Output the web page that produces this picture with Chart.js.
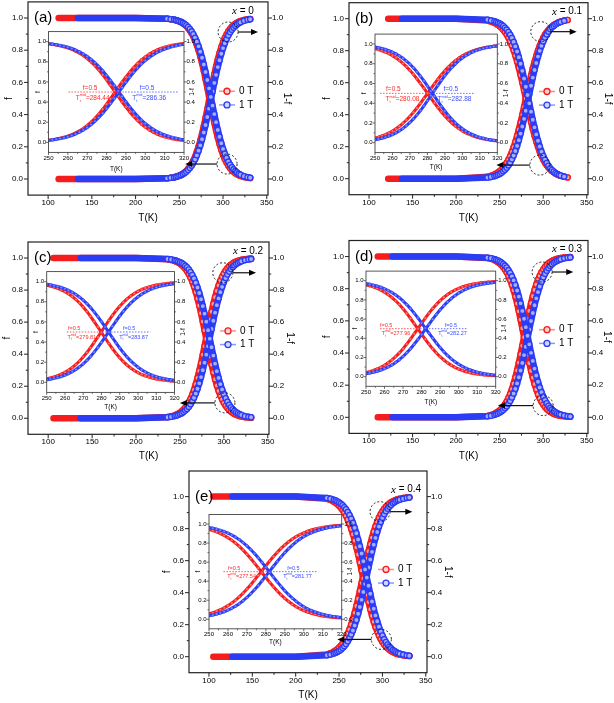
<!DOCTYPE html>
<html>
<head>
<meta charset="utf-8">
<script src="https://cdn.jsdelivr.net/npm/chart.js@4.4.1/dist/chart.umd.min.js"></script>
<style>
  html, body { margin: 0; padding: 0; background: #fff; }
  #page { position: relative; width: 614px; height: 703px; overflow: hidden; background: #fff; }
  canvas { position: absolute; }
</style>
</head>
<body>
<div id="page"></div>
<script>
// ---- data ----
// temperatures (K) for every curve after its first point
const tempGrid = [200, 236, 240, 244, 246, 248, 250, 252, 254, 256, 258, 260, 262, 264, 266, 268, 270, 272, 274, 276, 278, 280, 282, 284, 286, 288, 290, 292, 294, 296, 298, 300, 302, 304, 306, 308, 310, 312, 314, 316, 318, 320, 324, 328, 331];
// first measured temperature of each panel (a..e)
const start0T = [112, 122, 106, 110, 105];
const start1T = [134, 138, 137, 127, 127];

// f values: first entry at the start temperature, then one per tempGrid entry
const fA0 = [1, 1, 0.995, 0.993, 0.989, 0.986, 0.983, 0.979, 0.973, 0.967, 0.959, 0.950, 0.938, 0.923, 0.906, 0.886, 0.862, 0.832, 0.799, 0.761, 0.719, 0.672, 0.621, 0.567, 0.512, 0.457, 0.402, 0.350, 0.302, 0.257, 0.217, 0.181, 0.151, 0.124, 0.102, 0.083, 0.068, 0.055, 0.045, 0.036, 0.029, 0.023, 0.019, 0.012, 0.008, 0.006];
const fA1 = [1, 1, 0.996, 0.993, 0.990, 0.987, 0.984, 0.980, 0.976, 0.970, 0.963, 0.955, 0.944, 0.932, 0.917, 0.899, 0.878, 0.853, 0.824, 0.791, 0.753, 0.711, 0.665, 0.615, 0.563, 0.510, 0.456, 0.403, 0.353, 0.305, 0.262, 0.222, 0.187, 0.157, 0.131, 0.108, 0.089, 0.073, 0.060, 0.049, 0.040, 0.032, 0.026, 0.017, 0.011, 0.008];
const fB0 = [1, 1, 0.988, 0.982, 0.974, 0.968, 0.961, 0.953, 0.943, 0.931, 0.917, 0.901, 0.882, 0.859, 0.833, 0.803, 0.770, 0.733, 0.692, 0.648, 0.601, 0.552, 0.502, 0.452, 0.403, 0.356, 0.312, 0.270, 0.233, 0.199, 0.169, 0.143, 0.120, 0.100, 0.084, 0.070, 0.058, 0.048, 0.040, 0.033, 0.027, 0.022, 0.018, 0.012, 0.008, null];
const fB1 = [1, 1, 0.993, 0.989, 0.984, 0.980, 0.975, 0.970, 0.963, 0.954, 0.944, 0.932, 0.917, 0.900, 0.879, 0.855, 0.827, 0.795, 0.759, 0.718, 0.674, 0.626, 0.575, 0.523, 0.471, 0.419, 0.368, 0.321, 0.277, 0.237, 0.201, 0.169, 0.142, 0.118, 0.098, 0.081, 0.066, 0.054, 0.045, 0.036, 0.030, 0.024, 0.020, 0.013, null, null];
const fC0 = [1, 1, 0.992, 0.988, 0.982, 0.977, 0.972, 0.965, 0.956, 0.946, 0.934, 0.919, 0.900, 0.879, 0.853, 0.823, 0.788, 0.748, 0.704, 0.656, 0.604, 0.550, 0.495, 0.440, 0.386, 0.335, 0.287, 0.244, 0.205, 0.171, 0.142, 0.117, 0.096, 0.078, 0.064, 0.052, 0.042, 0.034, 0.027, 0.022, 0.018, 0.014, 0.011, 0.007, 0.005, 0.003];
const fC1 = [1, 1, 0.994, 0.991, 0.986, 0.983, 0.979, 0.974, 0.969, 0.961, 0.952, 0.942, 0.929, 0.913, 0.894, 0.872, 0.846, 0.816, 0.782, 0.743, 0.700, 0.653, 0.603, 0.550, 0.497, 0.443, 0.391, 0.341, 0.294, 0.252, 0.213, 0.180, 0.150, 0.125, 0.103, 0.085, 0.069, 0.057, 0.046, 0.038, 0.031, 0.025, 0.020, 0.013, 0.009, 0.006];
const fD0 = [1, 1, 0.991, 0.986, 0.978, 0.972, 0.965, 0.957, 0.947, 0.935, 0.920, 0.902, 0.880, 0.855, 0.825, 0.791, 0.752, 0.708, 0.660, 0.608, 0.554, 0.499, 0.444, 0.390, 0.338, 0.290, 0.247, 0.208, 0.174, 0.144, 0.119, 0.097, 0.080, 0.065, 0.052, 0.042, 0.034, 0.028, 0.022, 0.018, 0.014, 0.012, 0.009, 0.006, 0.004, 0.003];
const fD1 = [1, 1, 0.993, 0.990, 0.984, 0.980, 0.976, 0.970, 0.963, 0.954, 0.944, 0.932, 0.916, 0.898, 0.877, 0.852, 0.823, 0.789, 0.751, 0.709, 0.662, 0.613, 0.561, 0.507, 0.454, 0.401, 0.351, 0.303, 0.260, 0.221, 0.186, 0.156, 0.129, 0.107, 0.088, 0.072, 0.059, 0.048, 0.039, 0.032, 0.026, 0.021, 0.017, 0.011, 0.007, 0.005];
const fE0 = [1, 1, 0.986, 0.979, 0.968, 0.962, 0.953, 0.943, 0.931, 0.917, 0.900, 0.880, 0.857, 0.830, 0.799, 0.765, 0.726, 0.683, 0.638, 0.589, 0.539, 0.488, 0.438, 0.388, 0.341, 0.297, 0.256, 0.219, 0.186, 0.157, 0.132, 0.110, 0.092, 0.076, 0.063, 0.052, 0.043, 0.035, 0.029, 0.024, 0.019, 0.016, 0.013, 0.009, 0.006, 0.004];
const fE1 = [1, 1, 0.991, 0.987, 0.980, 0.976, 0.970, 0.964, 0.956, 0.946, 0.934, 0.921, 0.904, 0.885, 0.862, 0.836, 0.805, 0.771, 0.732, 0.690, 0.645, 0.596, 0.545, 0.494, 0.443, 0.393, 0.345, 0.300, 0.258, 0.221, 0.187, 0.158, 0.132, 0.110, 0.092, 0.076, 0.063, 0.052, 0.042, 0.035, 0.028, 0.023, 0.019, 0.013, 0.008, 0.006];

const fRed = [fA0, fB0, fC0, fD0, fE0];
const fBlue = [fA1, fB1, fC1, fD1, fE1];

// f = 0.5 temperatures written in the insets
const tMid0T = [284.44, 280.08, 279.81, 277.96, 277.54];
const tMid1T = [286.36, 282.88, 283.87, 282.27, 281.77];

const fieldLabels = ['0 T', '1 T'];
const compositions = ['0', '0.1', '0.2', '0.3', '0.4'];
const panelLetters = ['(a)', '(b)', '(c)', '(d)', '(e)'];
const mainTicksX = [100, 150, 200, 250, 300, 350];
const insetTicksX = [250, 260, 270, 280, 290, 300, 310, 320];
const fTicks = [0, 0.2, 0.4, 0.6, 0.8, 1.0];

// ---- layout (page pixels) ----
const FONT = 'Liberation Sans, Arial, sans-serif';
const colors = {
  red: { edge: '#f41c1c', fill: '#ffa0a0', inset: '#ff7878', legend: '#ffd0d0', line: '#ff8d8d', text: '#ff2b2b' },
  blue: { edge: '#2b3cf5', fill: '#a3acff', inset: '#7c88ff', legend: '#d0d6ff', line: '#8d98ff', text: '#3a4cff' }
};
const mainBoxes = [
  { l: 28, r: 268, t: 1.9, b: 195.1, yMax: 1.1, fx: 8.6, rx: 287, ty: 218 },
  { l: 349, r: 588, t: 2.7, b: 194.7, yMax: 1.1, fx: 327, rx: 608, ty: 218 },
  { l: 28, r: 269, t: 242, b: 434.3, yMax: 1.1, fx: 6.7, rx: 290, ty: 456 },
  { l: 349, r: 588, t: 240.5, b: 433.4, yMax: 1.1, fx: 326.7, rx: 607, ty: 456 },
  { l: 189, r: 427, t: 471, b: 672.7, yMax: 1.16, fx: 166.7, rx: 448.3, ty: 695 }
];
const insetBoxes = [
  { l: 48.5, r: 184, t: 31.6, b: 152.4, ty: 169 },
  { l: 375, r: 497.3, t: 34.1, b: 152.6, ty: 166.5 },
  { l: 46.7, r: 174.5, t: 271.6, b: 392.4, ty: 407.3 },
  { l: 366, r: 495.7, t: 271.1, b: 386.3, ty: 402.3 },
  { l: 209, r: 341.7, t: 514.5, b: 628.8, ty: 642.3 }
];
// dashed circles: [T, f, arrow end T]
const circlesUp = [[305.8, 0.913, 340], [297.2, 0.919, 338.4], [298.8, 0.908, 336.6], [298.7, 0.904, 334.5], [297.3, 0.906, 334.5]];
const circlesDown = [[304.6, 0.093, 256.7], [296.1, 0.085, 246.2], [301.2, 0.096, 250], [299.9, 0.073, 248], [298.8, 0.108, 248]];
// inset notes: dotted line span, centre of "f=0.5" and of the T label
const insetNotes = [
  { size: 6.5, red: { line: [260.3, 289.6], fx: 271.5, tx: 272.8 }, blue: { line: [289.6, 317.3], fx: 300.9, tx: 302 } },
  { size: 6.5, red: { line: [252.9, 280.5], fx: 260.5, tx: 265.7 }, blue: { line: [281.5, 307.3], fx: 293.4, tx: 295.5 } },
  { size: 5.5, red: { line: [261, 279.3], fx: 265, tx: 269.2 }, blue: { line: [280.3, 306.8], fx: 295.2, tx: 297.6 } },
  { size: 5.5, red: { line: [257.6, 279.1], fx: 260.9, tx: 266.2 }, blue: { line: [279.1, 304.3], fx: 295.8, tx: 296.7 } },
  { size: 5.5, red: { line: [257.6, 282.2], fx: 263.3, tx: 267.2 }, blue: { line: [282.2, 307.6], fx: 294.5, tx: 296.7 } }
];

const page = document.getElementById('page');

function makeCanvas(x, y, w, h) {
  const c = document.createElement('canvas');
  c.width = w; c.height = h;
  c.style.left = x + 'px'; c.style.top = y + 'px';
  c.style.width = w + 'px'; c.style.height = h + 'px';
  page.appendChild(c);
  return c;
}

function curvePoints(t0, vals, rising) {
  const temps = [t0].concat(tempGrid);
  const pts = [];
  temps.forEach((t, k) => {
    const v = vals[k];
    if (v === null || v === undefined) return;
    pts.push({ x: t, y: rising ? 1 - v : v });
  });
  return pts;
}

function curveSets(i, inset) {
  const sets = [];
  [['blue', fBlue[i], start1T[i]], ['red', fRed[i], start0T[i]]].forEach(([c, vals, t0]) => {
    [false, true].forEach(rising => {
      sets.push({
        data: curvePoints(t0, vals, rising),
        yAxisID: rising ? 'y1' : 'y',
        borderColor: colors[c].edge,
        pointBorderColor: colors[c].edge,
        pointBackgroundColor: inset ? colors[c].inset : colors[c].fill,
        // the long flat run is drawn as the thick band only
        pointRadius: p => (p.raw && p.raw.x < 236 ? 0 : (inset ? 1.3 : 2.6)),
        pointBorderWidth: inset ? 0.5 : 1.3,
        borderWidth: inset ? 3 : 6.5,
        borderCapStyle: 'round',
        borderJoinStyle: 'round',
        fill: false,
        clip: inset ? 0 : 6
      });
    });
  });
  return sets;
}

function fixFit(prop, size) {
  return s => {
    s[prop] = size;
    s.paddingTop = 0; s.paddingBottom = 0; s.paddingLeft = 0; s.paddingRight = 0;
  };
}

// frame + outward major/minor ticks
const frameTicks = {
  id: 'frameTicks',
  afterDatasetsDraw(chart, args, o) {
    const { ctx, chartArea: a, scales } = chart;
    const mids = v => v.slice(1).map((x, k) => (x + v[k]) / 2);
    const xs = scales.x.ticks.map(t => t.value);
    const ys = scales.y.ticks.map(t => t.value);
    ctx.save();
    ctx.strokeStyle = o.color;
    ctx.lineWidth = o.lineWidth;
    ctx.strokeRect(a.left, a.top, a.right - a.left, a.bottom - a.top);
    ctx.lineWidth = o.tickWidth;
    ctx.beginPath();
    const xTick = (v, len) => { const p = scales.x.getPixelForValue(v); ctx.moveTo(p, a.bottom); ctx.lineTo(p, a.bottom + len); };
    const yTick = (v, len) => {
      const p = scales.y.getPixelForValue(v);
      ctx.moveTo(a.left, p); ctx.lineTo(a.left - len, p);
      ctx.moveTo(a.right, p); ctx.lineTo(a.right + len, p);
    };
    xs.forEach(v => xTick(v, o.major));
    mids(xs).forEach(v => xTick(v, o.minor));
    ys.forEach(v => yTick(v, o.major));
    mids(ys).forEach(v => yTick(v, o.minor));
    ctx.stroke();
    ctx.restore();
  }
};

function arrow(ctx, x0, y0, x1) {
  const dir = Math.sign(x1 - x0);
  ctx.beginPath(); ctx.moveTo(x0, y0); ctx.lineTo(x1 - dir * 5, y0); ctx.stroke();
  ctx.beginPath(); ctx.moveTo(x1, y0); ctx.lineTo(x1 - dir * 7, y0 - 3); ctx.lineTo(x1 - dir * 7, y0 + 3);
  ctx.closePath(); ctx.fill();
}

// panel letter, composition, legend, dashed circles with arrows
const mainDecor = {
  id: 'mainDecor',
  afterDraw(chart, args, o) {
    const { ctx, chartArea: a, scales: { x, y } } = chart;
    const y1 = y.getPixelForValue(1);
    ctx.save();
    ctx.fillStyle = '#000';
    ctx.textBaseline = 'middle';
    ctx.textAlign = 'left';
    ctx.font = `15px ${FONT}`;
    ctx.fillText(o.letter, a.left + 6, y1);

    let cx = a.right - 36;
    ctx.font = 'italic 11px "Liberation Serif", serif';
    ctx.fillText('x', cx, y1 - 7);
    cx += ctx.measureText('x').width;
    ctx.font = `10px ${FONT}`;
    ctx.fillText(' = ' + o.comp, cx, y1 - 7);

    [['red', 0.545, fieldLabels[0]], ['blue', 0.46, fieldLabels[1]]].forEach(([c, f, label]) => {
      const ly = y.getPixelForValue(f);
      ctx.strokeStyle = colors[c].line; ctx.lineWidth = 1.5;
      ctx.beginPath(); ctx.moveTo(a.right - 49, ly); ctx.lineTo(a.right - 33, ly); ctx.stroke();
      ctx.beginPath(); ctx.arc(a.right - 41, ly, 3, 0, Math.PI * 2);
      ctx.fillStyle = colors[c].legend; ctx.fill();
      ctx.strokeStyle = colors[c].edge; ctx.lineWidth = 1.3; ctx.stroke();
      ctx.fillStyle = '#000'; ctx.font = `10px ${FONT}`;
      ctx.fillText(label, a.right - 29, ly);
    });

    const r = 10;
    ctx.strokeStyle = '#111'; ctx.fillStyle = '#000';
    [[o.up, 1], [o.down, -1]].forEach(([c, side]) => {
      const px = x.getPixelForValue(c[0]), py = y.getPixelForValue(c[1]);
      ctx.lineWidth = 0.9;
      ctx.setLineDash([2, 2]);
      ctx.beginPath(); ctx.arc(px, py, r, 0, Math.PI * 2); ctx.stroke();
      ctx.setLineDash([]);
      ctx.lineWidth = 1.2;
      arrow(ctx, px + side * r, py, x.getPixelForValue(c[2]));
    });
    ctx.restore();
  }
};

function tmidText(ctx, s, cx, cy, value, color) {
  ctx.font = `${s}px ${FONT}`;
  const wT = ctx.measureText('T').width;
  const rest = '=' + value.toFixed(2);
  const wR = ctx.measureText(rest).width;
  ctx.font = `${s * 0.6}px ${FONT}`;
  const wS = Math.max(ctx.measureText('t').width, ctx.measureText('mid').width);
  let xx = cx - (wT + wS + wR) / 2;
  ctx.fillStyle = color; ctx.textAlign = 'left'; ctx.textBaseline = 'middle';
  ctx.font = `${s}px ${FONT}`;
  ctx.fillText('T', xx, cy); xx += wT;
  ctx.font = `${s * 0.6}px ${FONT}`;
  ctx.fillText('t', xx, cy + s * 0.35);
  ctx.fillText('mid', xx, cy - s * 0.45);
  xx += wS;
  ctx.font = `${s}px ${FONT}`;
  ctx.fillText(rest, xx, cy);
}

// inset axis titles and the f = 0.5 notes
const insetDecor = {
  id: 'insetDecor',
  afterDraw(chart, args, o) {
    const { ctx, chartArea: a, scales: { x, y } } = chart;
    const y5 = y.getPixelForValue(0.5);
    ctx.save();
    ctx.fillStyle = '#222';
    ctx.font = `6.5px ${FONT}`;
    ctx.textAlign = 'center'; ctx.textBaseline = 'middle';
    [[a.left - 10.5, 'f'], [a.right + 8.5, '1-f']].forEach(([tx, t]) => {
      ctx.save(); ctx.translate(tx, y5); ctx.rotate(-Math.PI / 2); ctx.fillText(t, 0, 0); ctx.restore();
    });
    const n = o.note;
    [['red', n.red, o.t0], ['blue', n.blue, o.t1]].forEach(([c, spec, tm]) => {
      ctx.strokeStyle = colors[c].text; ctx.lineWidth = 0.8;
      ctx.setLineDash([1.5, 1.5]);
      ctx.beginPath();
      ctx.moveTo(x.getPixelForValue(spec.line[0]), y5);
      ctx.lineTo(x.getPixelForValue(spec.line[1]), y5);
      ctx.stroke();
      ctx.setLineDash([]);
      ctx.fillStyle = colors[c].text;
      ctx.font = `${n.size}px ${FONT}`;
      ctx.textAlign = 'center';
      ctx.fillText('f=0.5', x.getPixelForValue(spec.fx), y5 - n.size * 0.65);
      tmidText(ctx, n.size, x.getPixelForValue(spec.tx), y5 + n.size * 0.95, tm, colors[c].text);
    });
    ctx.restore();
  }
};

function axisX(min, max, ticks, size, pad, height, titleSize) {
  return {
    type: 'linear', min, max,
    afterBuildTicks: s => { s.ticks = ticks.map(v => ({ value: v })); },
    afterFit: fixFit('height', height),
    grid: { display: false, drawTicks: false }, border: { display: false },
    ticks: { font: { family: FONT, size }, color: '#000', padding: pad, autoSkip: false, maxRotation: 0, callback: v => String(v) },
    title: { display: true, text: 'T(K)', font: { family: FONT, size: titleSize }, color: '#000', padding: 0 }
  };
}
function axisY(pos, max, size, pad, width, title, titleSize) {
  return {
    type: 'linear', position: pos, min: -0.1, max,
    afterBuildTicks: s => { s.ticks = fTicks.map(v => ({ value: v })); },
    afterFit: fixFit('width', width),
    grid: { display: false, drawTicks: false }, border: { display: false },
    ticks: { font: { family: FONT, size }, color: '#000', padding: pad, callback: v => v.toFixed(1) },
    title: { display: !!title, text: title || '', font: { family: FONT, size: titleSize }, color: '#000', padding: 0 }
  };
}

function buildMain(i) {
  const m = mainBoxes[i];
  const left = Math.round(m.fx - 6), right = Math.round(m.rx + 6);
  const top = Math.floor(m.t) - 1, bottom = Math.round(m.ty + 6);
  const cv = makeCanvas(left, top, right - left, bottom - top);
  new Chart(cv.getContext('2d'), {
    type: 'line',
    data: { datasets: curveSets(i, false) },
    plugins: [frameTicks, mainDecor],
    options: {
      animation: false, responsive: false, devicePixelRatio: 1, events: [],
      layout: { autoPadding: false, padding: { top: m.t - top, left: 0, right: 0, bottom: 0 } },
      plugins: {
        legend: { display: false }, tooltip: { enabled: false },
        frameTicks: { color: '#222', lineWidth: 1.2, tickWidth: 1, major: 4, minor: 2.2 },
        mainDecor: { letter: panelLetters[i], comp: compositions[i], up: circlesUp[i], down: circlesDown[i] }
      },
      scales: {
        x: axisX(77, 351.4, mainTicksX, 8, 3, bottom - m.b, 10),
        y: axisY('left', m.yMax, 8, 5, m.l - left, 'f', 10),
        y1: axisY('right', m.yMax, 8, 4, right - m.r, '1-f', 10)
      }
    }
  });
}

function buildInset(i) {
  const b = insetBoxes[i];
  const left = Math.round(b.l - 14), right = Math.round(b.r + 14);
  const top = Math.floor(b.t) - 1, bottom = Math.round(b.ty + 4);
  const cv = makeCanvas(left, top, right - left, bottom - top);
  new Chart(cv.getContext('2d'), {
    type: 'line',
    data: { datasets: curveSets(i, true) },
    plugins: [frameTicks, insetDecor],
    options: {
      animation: false, responsive: false, devicePixelRatio: 1, events: [],
      layout: { autoPadding: false, padding: { top: b.t - top, left: 0, right: 0, bottom: 0 } },
      plugins: {
        legend: { display: false }, tooltip: { enabled: false },
        frameTicks: { color: '#444', lineWidth: 0.9, tickWidth: 0.8, major: 2.5, minor: 1.5 },
        insetDecor: { note: insetNotes[i], t0: tMid0T[i], t1: tMid1T[i] }
      },
      scales: {
        x: axisX(250, 320, insetTicksX, 6, 2, bottom - b.b, 6.5),
        y: axisY('left', 1.1, 6, 2.5, b.l - left, null, 6),
        y1: axisY('right', 1.1, 6, 2.5, right - b.r, null, 6)
      }
    }
  });
}

for (let i = 0; i < 5; i++) {
  buildMain(i);
  buildInset(i);
}
</script>
</body>
</html>
